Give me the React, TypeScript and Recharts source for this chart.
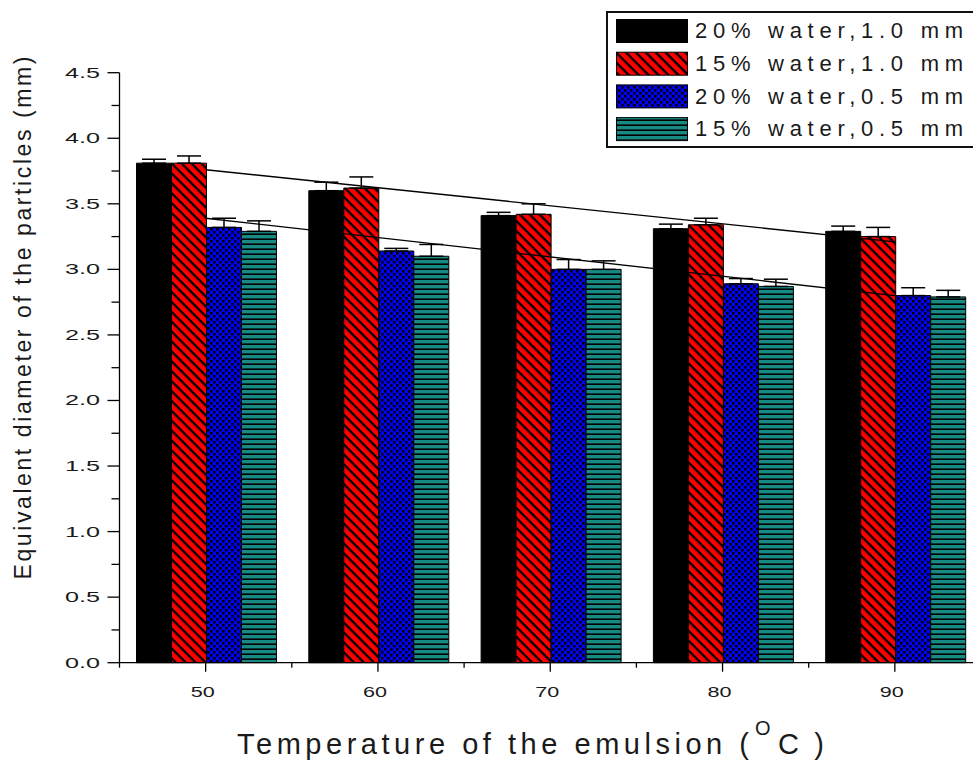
import React from "react";
import { BarChart, Bar, XAxis, YAxis, ErrorBar, ReferenceLine, Legend } from "recharts";

// ---------- data ----------
const temps = [50, 60, 70, 80, 90];
const water20mm10 = [3.81, 3.6, 3.41, 3.31, 3.29];
const water15mm10 = [3.81, 3.62, 3.42, 3.34, 3.25];
const water20mm05 = [3.32, 3.14, 3.0, 2.89, 2.8];
const water15mm05 = [3.29, 3.1, 3.0, 2.87, 2.79];
const err20mm10 = [0.03, 0.065, 0.025, 0.035, 0.04];
const err15mm10 = [0.055, 0.085, 0.08, 0.05, 0.07];
const err20mm05 = [0.07, 0.02, 0.075, 0.04, 0.06];
const err15mm05 = [0.08, 0.09, 0.065, 0.055, 0.05];
const trendX = [50, 90];
const upperTrend = [3.76, 3.21];
const lowerTrend = [3.39, 2.8];
const yTicks = [0, 0.25, 0.5, 0.75, 1, 1.25, 1.5, 1.75, 2, 2.25, 2.5, 2.75, 3, 3.25, 3.5, 3.75, 4, 4.25, 4.5];
const yLabels = ["0.0", "0.5", "1.0", "1.5", "2.0", "2.5", "3.0", "3.5", "4.0", "4.5"];
const seriesNames = ["20% water,1.0 mm", "15% water,1.0 mm", "20% water,0.5 mm", "15% water,0.5 mm"];
const xTitle = "Temperature of the emulsion (";
const xTitleSup = "O";
const xTitleEnd = "C)";
const yTitle = "Equivalent diameter of the particles (mm)";

const chartData = temps.map((t, i) => ({
  temp: t,
  a: water20mm10[i],
  b: water15mm10[i],
  c: water20mm05[i],
  d: water15mm05[i],
  ea: [0, err20mm10[i]],
  eb: [0, err15mm10[i]],
  ec: [0, err20mm05[i]],
  ed: [0, err15mm05[i]],
}));

// ---------- layout ----------
const W = 1000;
const H = 762;
const M = { top: 72.7, right: 19, bottom: 0, left: 0 };
const Y_W = 119.5;
const X_H = 99.3;
const BAND = (W - M.left - M.right - Y_W) / temps.length;
const FONT = "'Liberation Sans', Arial, sans-serif";
const TXT = "#1a1a1a";
const fills = ["#000000", "url(#redHatch)", "url(#blueCheck)", "url(#tealLines)"];
const keys = ["a", "b", "c", "d"];
const errKeys = ["ea", "eb", "ec", "ed"];

const YTick = (props: any) => {
  const { x, y, payload } = props;
  const v = payload.value;
  const major = Math.abs(v * 2 - Math.round(v * 2)) < 1e-6;
  const label = major ? yLabels[Math.round(v * 2)] : null;
  return (
    <g>
      <line x1={x - (major ? 12 : 8)} x2={x} y1={y} y2={y} stroke="#000" strokeWidth={1.3} />
      {label && (
        <text x={100} y={y + 5} textAnchor="end" fontSize={14} fontFamily={FONT} fill={TXT}
          textLength={35} lengthAdjust="spacingAndGlyphs">
          {label}
        </text>
      )}
    </g>
  );
};

const XTick = (props: any) => {
  const { x, y, payload, index } = props;
  return (
    <g>
      <line x1={x} x2={x} y1={y} y2={y + 9} stroke="#000" strokeWidth={1.3} />
      <line x1={x - BAND / 2} x2={x - BAND / 2} y1={y} y2={y + 5} stroke="#000" strokeWidth={1.3} />
      {index === temps.length - 1 && (
        <line x1={x + BAND / 2} x2={x + BAND / 2} y1={y} y2={y + 5} stroke="#000" strokeWidth={1.3} />
      )}
      <text x={x - 3} y={y + 34} textAnchor="middle" fontSize={15} fontFamily={FONT} fill={TXT}
        textLength={24} lengthAdjust="spacingAndGlyphs">
        {String(payload.value)}
      </text>
    </g>
  );
};

const XTitle = () => (
  <g fontFamily={FONT} fill={TXT}>
    <text x={237} y={754} fontSize={29} textLength={512} lengthAdjust="spacing">{xTitle}</text>
    <text x={755} y={735} fontSize={20} textLength={17} lengthAdjust="spacing">{xTitleSup}</text>
    <text x={778} y={754} fontSize={29} textLength={46} lengthAdjust="spacing">{xTitleEnd}</text>
  </g>
);

const YTitle = () => (
  <text x={31} y={318} transform="rotate(-90, 31, 318)" textAnchor="middle" fontSize={23}
    fontFamily={FONT} fill={TXT} textLength={523} lengthAdjust="spacing">
    {yTitle}
  </text>
);

const LegendBox = () => (
  <svg width={420} height={140} style={{ display: "block" }}>
    <rect x={1} y={1} width={410} height={135} fill="#fff" stroke="#111" strokeWidth={2} />
    {seriesNames.map((n, i) => (
      <g key={n}>
        <rect x={10.5} y={8.5 + i * 32.7} width={71} height={23} fill={fills[i]} stroke="#000" strokeWidth={1} />
        <text x={89} y={27.3 + i * 32.7} fontSize={22} fontFamily={FONT} fill={TXT}
          textLength={268} lengthAdjust="spacing">
          {n}
        </text>
      </g>
    ))}
  </svg>
);

export default function App() {
  return (
    <div style={{ position: "absolute", left: 0, top: 0, width: 973, height: 762, overflow: "hidden", background: "#fff" }}>
      <BarChart width={W} height={H} data={chartData} margin={M} barGap={0} barCategoryGap={17}>
        <defs>
          <pattern id="redHatch" patternUnits="userSpaceOnUse" width={7} height={7} patternTransform="rotate(45)">
            <rect width={7} height={7} fill="#ff0000" />
            <rect width={7} height={2.3} fill="#000" />
          </pattern>
          <pattern id="blueCheck" patternUnits="userSpaceOnUse" width={6} height={6}>
            <rect width={6} height={6} fill="#0000ff" />
            <rect x={0} y={0} width={2.6} height={2.6} fill="#000" />
            <rect x={3} y={3} width={2.6} height={2.6} fill="#000" />
          </pattern>
          <pattern id="tealLines" patternUnits="userSpaceOnUse" width={6} height={5}>
            <rect width={6} height={5} fill="#178a84" />
            <rect y={3.4} width={6} height={1.6} fill="#000" />
          </pattern>
        </defs>
        <XAxis dataKey="temp" height={X_H} axisLine={{ stroke: "#000", strokeWidth: 1.3 }} tickLine={false}
          tickSize={0} tickMargin={0} interval={0} tick={<XTick />} label={{ content: () => <XTitle /> }} />
        <YAxis width={Y_W} domain={[0, 4.5]} ticks={yTicks} interval={0} axisLine={{ stroke: "#000", strokeWidth: 1.3 }}
          tickLine={false} tickSize={0} tickMargin={0} tick={<YTick />} label={{ content: () => <YTitle /> }} />
        {keys.map((k, i) => (
          <Bar key={k} dataKey={k} name={seriesNames[i]} fill={fills[i]} stroke="#000" strokeWidth={1}
            isAnimationActive={false}>
            <ErrorBar dataKey={errKeys[i]} width={12} stroke="#000" strokeWidth={1.5} direction="y" />
          </Bar>
        ))}
        <ReferenceLine segment={[{ x: trendX[0], y: upperTrend[0] }, { x: trendX[1], y: upperTrend[1] }]}
          stroke="#000" strokeWidth={1.4} ifOverflow="visible" />
        <ReferenceLine segment={[{ x: trendX[0], y: lowerTrend[0] }, { x: trendX[1], y: lowerTrend[1] }]}
          stroke="#000" strokeWidth={1.4} ifOverflow="visible" />
        <Legend layout="vertical" align="center" verticalAlign="middle" content={() => <LegendBox />}
          wrapperStyle={{ left: 606, top: 11, width: 420, height: 140 }} />
      </BarChart>
    </div>
  );
}
